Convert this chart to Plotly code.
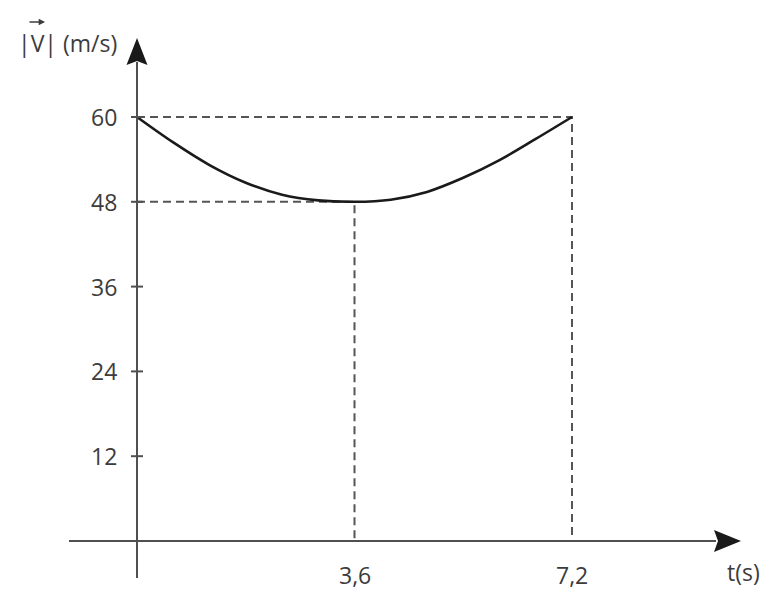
import plotly.graph_objects as go

# speed |V| (m/s) (s)
t_s = [0, 0.6, 1.2, 1.8, 2.4, 3.0, 3.6, 4.2, 4.8, 5.4, 6.0, 6.6, 7.2]
v_ms = [60, 56.4, 53.2, 50.7, 49.0, 48.2, 48.0, 48.3, 49.4, 51.4, 53.9, 56.9, 60]

y_ticks = [12, 24, 36, 48, 60]
x_marks = [3.6, 7.2]
x_labels = ["3,6", "7,2"]

W, H = 784, 600
PAGE = 8                        # default body margin of the page
# pixel layout of the drawing (page pixels)
X0, X1, T1 = 137, 572, 7.2      # x pixel of t=0 and t=7.2
Y0, Y1, V1 = 541, 117, 60       # y pixel of v=0 and v=60
sx = (X1 - X0) / T1
sy = (Y0 - Y1) / V1


def X(px):
    return (px - X0) / sx


def Y(py):
    return (Y0 - py) / sy


TXT = "#3c3c3c"
AX = "#505050"
FONT = "Open Sans"

fig = go.Figure()

# dashed guide lines to the minimum and to the end point
i_min = v_ms.index(min(v_ms))
for tx, vy in [(t_s[i_min], v_ms[i_min]), (t_s[-1], v_ms[-1])]:
    fig.add_trace(go.Scatter(
        x=[0, tx, tx], y=[vy, vy, 0], mode="lines",
        line=dict(color="#555555", width=2, dash="8px,5px"),
        hoverinfo="skip", showlegend=False))

fig.add_trace(go.Scatter(
    x=t_s, y=v_ms, mode="lines", line_shape="spline",
    line=dict(color="#1a1a1a", width=2.6), showlegend=False))

shapes = [
    # axes
    dict(type="line", x0=X(69), x1=X(716), y0=0, y1=0,
         line=dict(color=AX, width=2)),
    dict(type="line", x0=0, x1=0, y0=Y(578), y1=Y(62),
         line=dict(color=AX, width=2)),
    # arrow heads
    dict(type="path", fillcolor="#1a1a1a", line=dict(width=0),
         path=f"M {X(741)},0 L {X(714)},{Y(Y0 - 11)} L {X(718)},0 "
              f"L {X(714)},{Y(Y0 + 11)} Z"),
    dict(type="path", fillcolor="#1a1a1a", line=dict(width=0),
         path=f"M 0,{Y(38)} L {X(X0 - 10.5)},{Y(65)} L 0,{Y(61)} "
              f"L {X(X0 + 10.5)},{Y(65)} Z"),
]
for v in y_ticks:
    shapes.append(dict(type="line", x0=X(X0 - 6), x1=X(X0 + 6), y0=v, y1=v,
                       line=dict(color=AX, width=2)))

ann = []
for v in y_ticks:
    ann.append(dict(x=0, y=v, text=str(v), showarrow=False, xanchor="right",
                    yanchor="middle", xshift=-18, font=dict(size=23, color=TXT)))
for xm, lab in zip(x_marks, x_labels):
    ann.append(dict(x=xm, y=0, text=lab, showarrow=False, xanchor="center",
                    yanchor="top", yshift=-16, font=dict(size=23, color=TXT)))
ann.append(dict(x=X(743), y=Y(572), text="t(s)", showarrow=False,
                xanchor="center", yanchor="middle", font=dict(size=23, color=TXT)))
ann.append(dict(x=X(16), y=Y(43), text="|V| (m/s)", showarrow=False,
                xanchor="left", yanchor="middle", font=dict(size=23, color=TXT)))
# vector arrow over the V
ann.append(dict(x=X(45), y=Y(22), ax=-17, ay=0, text="", showarrow=True,
                arrowhead=2, arrowsize=0.9, arrowwidth=1.4, arrowcolor=TXT))

fig.update_layout(
    width=W, height=H, autosize=False,
    margin=dict(l=0, r=0, t=0, b=0),
    paper_bgcolor="white", plot_bgcolor="white",
    font=dict(family=FONT, color=TXT),
    xaxis=dict(range=[X(PAGE), X(W + PAGE)], visible=False, fixedrange=True),
    yaxis=dict(range=[Y(H + PAGE), Y(PAGE)], visible=False, fixedrange=True),
    shapes=shapes, annotations=ann, showlegend=False,
)

fig.write_html("out.html")
